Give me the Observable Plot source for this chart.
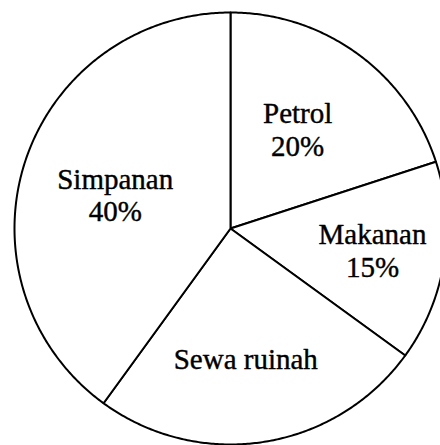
<!DOCTYPE html>
<html>
<head>
<meta charset="utf-8">
<script src="https://cdn.jsdelivr.net/npm/d3@7"></script>
<script src="https://cdn.jsdelivr.net/npm/@observablehq/plot@0.6"></script>
<style>
  html, body { margin: 0; padding: 0; background: #fff; }
  #chart svg { display: block; }
</style>
</head>
<body>
<div id="chart"></div>
<script>
// Data (clockwise from 12 o'clock)
const categories = ["Petrol", "Makanan", "Sewa rumah", "Simpanan"];
const percents = [20, 15, 25, 40];
const labels = ["Petrol\n20%", "Makanan\n15%", "Sewa ruinah", "Simpanan\n40%"];

const R = 216;
const pie = d3.pie().sort(null).value(d => d.value)(
  categories.map((c, i) => ({ name: c, value: percents[i], label: labels[i] }))
);

// polygon points for each slice (center + arc)
const pts = [];
for (const s of pie) {
  pts.push({ name: s.data.name, x: 0, y: 0 });
  const n = Math.max(2, Math.ceil((s.endAngle - s.startAngle) / (Math.PI / 360)));
  for (let k = 0; k <= n; k++) {
    const a = s.startAngle + (s.endAngle - s.startAngle) * k / n;
    pts.push({ name: s.data.name, x: R * Math.sin(a), y: R * Math.cos(a) });
  }
}

// label placement: along the mid-angle, with small layout nudges (px)
const labelR = 0.6 * R;
const nudge = {
  "Petrol": [-9, 5],
  "Makanan": [14, 1],
  "Sewa rumah": [-5, 2],
  "Simpanan": [8, 6]
};
const labelPts = pie.map(s => {
  const a = (s.startAngle + s.endAngle) / 2;
  const [nx, ny] = nudge[s.data.name];
  return {
    label: s.data.label,
    x: labelR * Math.sin(a) + nx,
    y: labelR * Math.cos(a) - ny
  };
});

const chart = Plot.plot({
  width: 440,
  height: 445,
  margin: 0,
  x: { domain: [-230, 210], axis: null },
  y: { domain: [-217, 228], axis: null },
  style: { background: "#fff" },
  marks: [
    Plot.line(pts, {
      x: "x", y: "y", z: "name",
      curve: "linear-closed",
      fill: "white", stroke: "black", strokeWidth: 2,
      strokeLinejoin: "round"
    }),
    Plot.text(labelPts, {
      x: "x", y: "y", text: "label",
      fontFamily: "'Liberation Serif', 'Times New Roman', serif",
      fontSize: 29, lineHeight: 1.13, fill: "black",
      stroke: "black", strokeWidth: 0.4
    })
  ]
});
document.getElementById("chart").appendChild(chart);
</script>
</body>
</html>
